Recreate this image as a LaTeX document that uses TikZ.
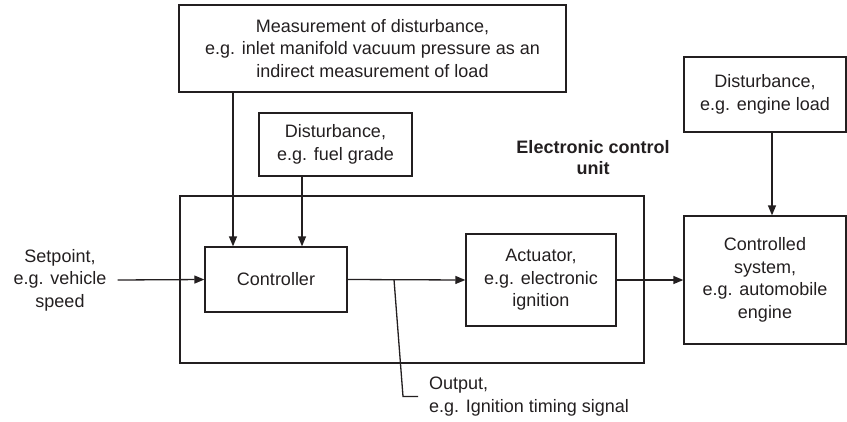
\documentclass[tikz,border=0pt]{standalone}
\usepackage{fontspec}
\setmainfont{Liberation Sans}
\usetikzlibrary{arrows.meta,positioning,calc}
\definecolor{ink}{HTML}{231F20}
\tikzset{blk/.style={draw=ink,line width=1.3pt,align=center,inner sep=2pt},
  sig/.style={draw=ink,line width=1.3pt,-{Triangle[length=10pt,width=8pt]}},
  wire/.style={draw=ink,line width=1.3pt},
  lbl/.style={text=ink,align=center,inner sep=0pt}}

\begin{document}
\begin{tikzpicture}[x=1pt,y=-1pt,font=\fontsize{18}{22.5}\selectfont,text=ink]
\useasboundingbox (0,0) rectangle (847,421);
% electronic control unit
\node[blk,minimum width=464pt,minimum height=167pt] (ecu) at (412,279.5) {};
\node[lbl,font=\fontsize{18}{21}\selectfont\bfseries] (ecul) at (593,157.5) {Electronic control\\unit};
\node[blk,minimum width=142pt,minimum height=65pt] (ctrl) at (276,279.5) {Controller};
\node[blk,minimum width=150pt,minimum height=92pt] (act) at (541,280) {Actuator,\\e.g. electronic\\ignition};
% disturbances
\node[blk,minimum width=387pt,minimum height=87pt] (meas) at (372.5,48.5) {Measurement of disturbance,\\e.g. inlet manifold vacuum pressure as an\\indirect measurement of load};
\node[blk,minimum width=153pt,minimum height=63pt] (fuel) at (335.5,144.5) {Disturbance,\\e.g. fuel grade};
\node[blk,minimum width=162pt,minimum height=75pt] (load) at (765,94.5) {Disturbance,\\e.g. engine load};
\node[blk,minimum width=162pt,minimum height=128pt] (sys) at (765,280) {Controlled\\system,\\e.g. automobile\\engine};
% free labels
\node[lbl,inner xsep=11pt] (setp) at (60,280) {Setpoint,\\e.g. vehicle\\speed};
\node[lbl,align=left,anchor=west,inner xsep=11pt] (outl) at (418,396.5) {Output,\\e.g. Ignition timing signal};
\coordinate (mx) at (233,0);
\coordinate (fx) at (302,0);
\coordinate (lx) at (772,0);
\coordinate (tap) at (394,279.5);
\coordinate (bend) at (403,396.5);
% signals
\draw[sig] (setp.east) -- (ctrl.west);
\draw[sig] (ctrl.east) -- (act.west);
\draw[sig] (act.east) -- (sys.west);
\draw[sig] (meas.south -| mx) -- (ctrl.north -| mx);
\draw[sig] (fuel.south -| fx) -- (ctrl.north -| fx);
\draw[sig] (load.south -| lx) -- (sys.north -| lx);
\draw[wire] (tap) -- (bend) -- (outl.west);
\end{tikzpicture}
\end{document}
